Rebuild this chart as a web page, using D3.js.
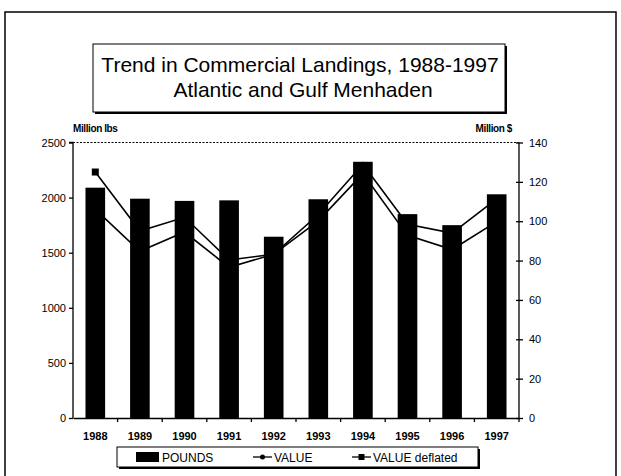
<!DOCTYPE html>
<html><head><meta charset="utf-8">
<script src="https://cdn.jsdelivr.net/npm/d3@7"></script>
<style>body{margin:0;background:#fff}svg{display:block}text{font-family:"Liberation Sans",Arial,sans-serif;fill:#000}</style>
</head><body><svg id="c" width="621" height="476"></svg>
<script>
const years = ["1988","1989","1990","1991","1992","1993","1994","1995","1996","1997"];
const pounds = [2090,1990,1970,1975,1645,1985,2325,1850,1750,2030];
const value = [106,84.7,94.5,76.6,83.2,103.4,128.9,98.5,94,111.4];
const valueDeflated = [125,95,102,80.3,83.2,100.2,124.2,92.8,85.6,99.8];
const leftTicks = [0,500,1000,1500,2000,2500];
const rightTicks = [0,20,40,60,80,100,120,140];
const titleLines = ["Trend in Commercial Landings, 1988-1997","Atlantic and Gulf Menhaden"];
const legendItems = ["POUNDS","VALUE","VALUE deflated"];

const svg = d3.select("#c");
const L = 73, R = 519, B = 418, T = 142.5;

// outer frame
svg.append("rect").attr("x",5).attr("y",12).attr("width",611).attr("height",480)
  .attr("fill","none").attr("stroke","#000").attr("stroke-width",1.5);

// title box
svg.append("rect").attr("x",95).attr("y",46).attr("width",412).attr("height",68).attr("fill","#000");
svg.append("rect").attr("x",93).attr("y",44).attr("width",412).attr("height",68)
  .attr("fill","#fff").attr("stroke","#000").attr("stroke-width",1);
svg.append("text").attr("x",300).attr("y",72).attr("text-anchor","middle")
  .style("font-size","21px").text(titleLines[0]);
svg.append("text").attr("x",303).attr("y",97).attr("text-anchor","middle")
  .style("font-size","21px").text(titleLines[1]);

const x = d3.scaleBand().domain(years).range([L,R]).paddingInner(0.56).paddingOuter(0.28);
const xb = d3.scaleBand().domain(years).range([L,R]);
const yL = d3.scaleLinear().domain([0,2500]).range([B,T]);
const yR = d3.scaleLinear().domain([0,140]).range([B,T]);

// top dotted line
svg.append("line").attr("x1",L).attr("x2",R).attr("y1",T).attr("y2",T)
  .attr("stroke","#000").attr("stroke-width",1).attr("stroke-dasharray","2,1.5");

// lines (behind bars)
const cx = d => xb(d)+xb.bandwidth()/2;
const line = arr => d3.line().x((d,i)=>cx(years[i])).y(d=>yR(d))(arr);
svg.append("path").attr("d",line(value)).attr("fill","none").attr("stroke","#000").attr("stroke-width",1.6);
svg.append("path").attr("d",line(valueDeflated)).attr("fill","none").attr("stroke","#000").attr("stroke-width",1.6);
svg.selectAll(".mv").data(value).enter().append("circle")
  .attr("cx",(d,i)=>cx(years[i])).attr("cy",d=>yR(d)).attr("r",2.5).attr("fill","#000");
svg.selectAll(".md").data(valueDeflated).enter().append("rect")
  .attr("x",(d,i)=>cx(years[i])-3.5).attr("y",d=>yR(d)-3.5).attr("width",7).attr("height",7).attr("fill","#000");

// bars
svg.selectAll(".bar").data(pounds).enter().append("rect")
  .attr("x",(d,i)=>x(years[i])).attr("y",d=>yL(d))
  .attr("width",x.bandwidth()).attr("height",d=>B-yL(d)).attr("fill","#000");

// axes
const gl = svg.append("g").attr("transform",`translate(${L},0)`)
  .call(d3.axisLeft(yL).tickValues(leftTicks).tickSize(4).tickPadding(3).tickFormat(d3.format("d")));
const gr = svg.append("g").attr("transform",`translate(${R},0)`)
  .call(d3.axisRight(yR).tickValues(rightTicks).tickSize(4).tickPadding(6).tickFormat(d3.format("d")));
gr.selectAll(".tick line").attr("x1",-3);
const gx = svg.append("g").attr("transform",`translate(0,${B})`)
  .call(d3.axisBottom(xb).tickSize(0).tickPadding(14));
gx.selectAll(".tick").append("line").attr("x1",xb.bandwidth()/2).attr("x2",xb.bandwidth()/2)
  .attr("y1",0).attr("y2",4).attr("stroke","#000");
[gl,gr,gx].forEach(g=>{
  g.selectAll(".domain").attr("stroke","#000").attr("stroke-width",1.3);
  g.selectAll(".tick line").attr("stroke","#000").attr("stroke-width",1.3);
  g.selectAll("text").style("font-size","11px").style("font-family","Liberation Sans, Arial, sans-serif");
});
gx.selectAll("text").style("font-weight","bold").style("font-size","11px");
gl.select(".domain").attr("d",`M-4,${T}H0V${B}`);
gr.select(".domain").attr("d",`M0,${T}V${B}`);

// axis titles
svg.append("text").attr("x",L).attr("y",132).style("font-size","10px").style("font-weight","bold")
  .style("letter-spacing","-0.4px").text("Million lbs");
svg.append("text").attr("x",512).attr("y",132).attr("text-anchor","end").style("font-size","10px")
  .style("font-weight","bold").style("letter-spacing","-0.4px").text("Million $");

// legend
svg.append("rect").attr("x",119).attr("y",449).attr("width",361).attr("height",20).attr("fill","#000");
svg.append("rect").attr("x",117).attr("y",447).attr("width",361).attr("height",20)
  .attr("fill","#fff").attr("stroke","#000").attr("stroke-width",1);
const lg = svg.append("g").style("font-size","12px");
lg.append("rect").attr("x",136).attr("y",452).attr("width",23).attr("height",10).attr("fill","#000");
lg.append("text").attr("x",162).attr("y",462).text(legendItems[0]);
lg.append("line").attr("x1",253).attr("x2",272).attr("y1",457).attr("y2",457).attr("stroke","#000").attr("stroke-width",1.3);
lg.append("circle").attr("cx",262.5).attr("cy",457).attr("r",2.5);
lg.append("text").attr("x",274).attr("y",462).text(legendItems[1]);
lg.append("line").attr("x1",352).attr("x2",371).attr("y1",457).attr("y2",457).attr("stroke","#000").attr("stroke-width",1.3);
lg.append("rect").attr("x",358.5).attr("y",454).attr("width",6).attr("height",6);
lg.append("text").attr("x",373).attr("y",462).text(legendItems[2]);
</script></body></html>
